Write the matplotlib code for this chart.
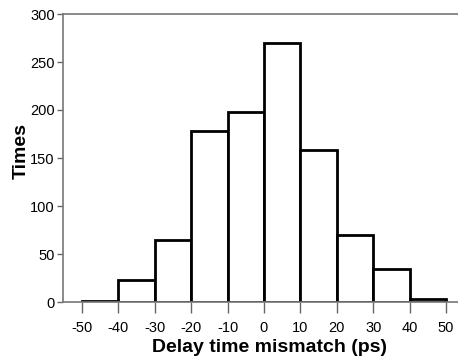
import matplotlib
matplotlib.use("Agg")
import matplotlib.pyplot as plt

bin_edges = [-50, -40, -30, -20, -10, 0, 10, 20, 30, 40, 50]
counts = [1, 23, 65, 178, 198, 270, 158, 70, 34, 3]
xticks = [-50, -40, -30, -20, -10, 0, 10, 20, 30, 40, 50]
yticks = [0, 50, 100, 150, 200, 250, 300]

plt.rcParams['font.family'] = ['Liberation Sans', 'DejaVu Sans']
plt.rcParams['axes.unicode_minus'] = False
fig = plt.figure(figsize=(4.58, 3.61), dpi=100)
ax = fig.add_axes([63/458, 59/361, 1 - 63/458, (302-14)/361])

widths = [bin_edges[i+1] - bin_edges[i] for i in range(len(counts))]
ax.bar(bin_edges[:-1], counts, width=widths, align='edge', facecolor='white',
       edgecolor='black', linewidth=2)

ax.set_xlim(-55.2, 53.3)
ax.set_ylim(0, 300)
ax.set_xticks(xticks)
ax.set_yticks(yticks)
ax.tick_params(axis='both', direction='out', colors='#666666', labelcolor='black',
               labelsize=10.5, width=1)
ax.tick_params(axis='x', length=8, pad=6)
ax.tick_params(axis='y', length=4, pad=2)
for s in ['left', 'bottom', 'top']:
    ax.spines[s].set_color('#777777')
    ax.spines[s].set_linewidth(1.2)
ax.spines['right'].set_visible(False)

ax.set_xlabel('Delay time mismatch (ps)', fontsize=14, fontweight='bold')
ax.xaxis.set_label_coords((270 - 63) / 395, -(339 - 302) / 288)
ax.set_ylabel('Times', fontsize=14, fontweight='bold')
ax.yaxis.set_label_coords((30 - 63) / 395, (302 - 151) / 288)

fig.savefig('out.png', dpi=100)
